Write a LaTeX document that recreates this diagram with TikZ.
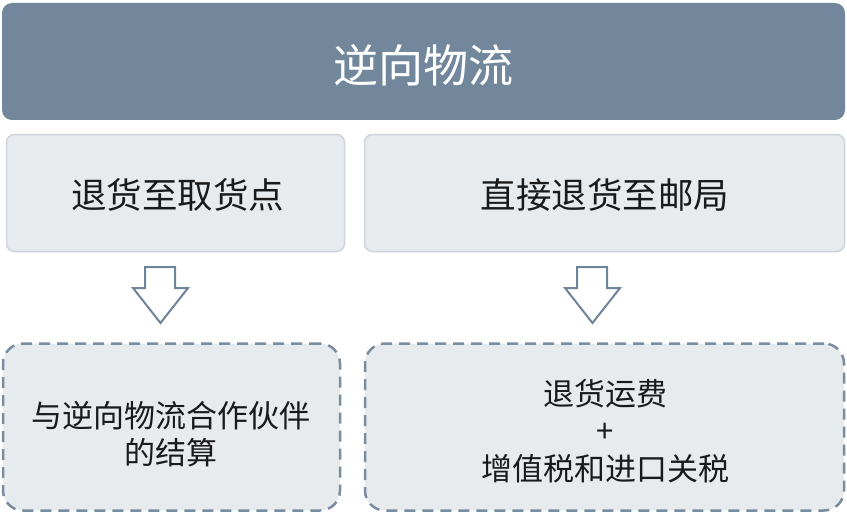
\documentclass[tikz,border=0pt]{standalone}
\usepackage{fontspec}
\newfontfamily\cjk{Noto Sans CJK SC}
\definecolor{hdrfill}{HTML}{72879B}
\definecolor{boxfill}{HTML}{E8EBEE}
\definecolor{boxline}{HTML}{CDD4DC}
\definecolor{dashline}{HTML}{7A8DA0}
\definecolor{arrowline}{HTML}{70849A}
\definecolor{txt}{HTML}{1A1A1A}
\tikzset{
  hdr/.style={fill=hdrfill, draw=none, rounded corners=10pt, text=white,
    font=\cjk\fontsize{45}{50}\selectfont, align=center, inner sep=0pt},
  topbox/.style={fill=boxfill, draw=boxline, line width=1.5pt, rounded corners=8pt,
    text=txt, font=\cjk\fontsize{35.5}{40}\selectfont, align=center, inner sep=0pt},
  botbox/.style={fill=boxfill, draw=dashline, line width=2.5pt, rounded corners=20pt,
    dash pattern=on 11pt off 7pt, text=txt, font=\cjk\fontsize{31}{37.5}\selectfont,
    align=center, inner sep=0pt},
  downarrow/.style={fill=white, draw=arrowline, line width=2pt, line join=miter}
}
\begin{document}
\begin{tikzpicture}[x=1pt,y=-1pt]
\useasboundingbox (0,0) rectangle (847,519);
\node[hdr, minimum width=843pt, minimum height=117pt] (head) at (423.5,61.5) {};
\node[text=white, font=\cjk\fontsize{45}{50}\selectfont, inner sep=0pt] (headtxt) at (423.5,65) {逆向物流};
\node[topbox, minimum width=338pt, minimum height=117pt] (pick) at (175.5,193) {};
\node[text=txt, font=\cjk\fontsize{35.5}{40}\selectfont, inner sep=0pt] (picktxt) at (177.5,195) {退货至取货点};
\node[topbox, minimum width=480pt, minimum height=117pt] (post) at (604.5,193) {};
\node[text=txt, font=\cjk\fontsize{35.5}{40}\selectfont, inner sep=0pt] (posttxt) at (605,195) {直接退货至邮局};
\node[botbox, minimum width=337pt, minimum height=167pt] (settle) at (171.5,427) {};
\node[text=txt, font=\cjk\fontsize{31}{37.5}\selectfont, align=center, inner sep=0pt] (settletxt) at (171,434) {与逆向物流合作伙伴\\的结算};
\node[botbox, minimum width=479pt, minimum height=167pt] (cost) at (604.5,427) {};
\node[text=txt, font=\cjk\fontsize{31}{37.5}\selectfont, align=center, inner sep=0pt] (costtxt) at (605,431) {退货运费\\+\\增值税和进口关税};
\draw[downarrow] (145,267) -- (175,267) -- (175,288) -- (188,288) -- (160.5,323) -- (133,288) -- (145,288) -- cycle;
\draw[downarrow] (577,267) -- (607,267) -- (607,288) -- (620,288) -- (592.5,323) -- (565,288) -- (577,288) -- cycle;
\end{tikzpicture}
\end{document}
